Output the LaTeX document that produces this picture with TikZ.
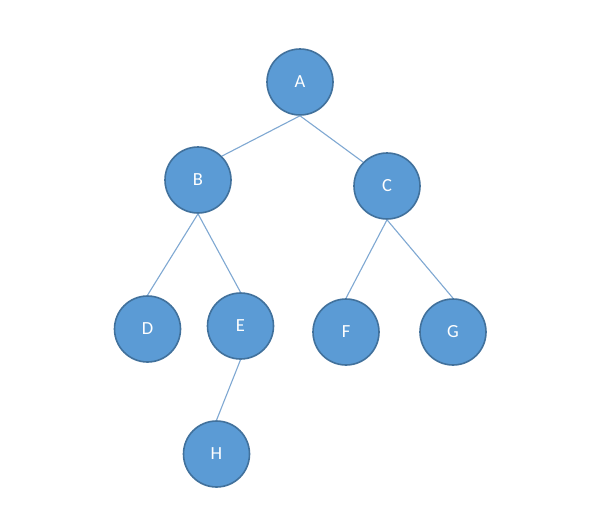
\documentclass[tikz,border=0pt]{standalone}
\usepackage{fontspec}
\setmainfont{Carlito}
\definecolor{nodefill}{HTML}{5B9BD5}
\definecolor{nodeborder}{HTML}{41719C}
\definecolor{edgecol}{HTML}{7FA8D2}
\begin{document}
\begin{tikzpicture}[x=1pt,y=-1pt,
  treenode/.style={circle,fill=nodefill,draw=nodeborder,line width=1.6pt,minimum size=66pt,inner sep=0pt,text=white,font=\fontsize{18.5}{22}\selectfont},
  edge/.style={draw=edgecol,line width=1.1pt}]
\useasboundingbox[fill=white] (0,0) rectangle (591,514);
\node[treenode] (A) at (300,82) {A};
\node[treenode] (B) at (198,180) {B};
\node[treenode] (C) at (387,186) {C};
\node[treenode] (D) at (147.5,329) {D};
\node[treenode] (E) at (240.5,326) {E};
\node[treenode] (F) at (346,332) {F};
\node[treenode] (G) at (453,332) {G};
\node[treenode] (H) at (216.5,454) {H};
\draw[edge] (A.south) -- (B.45);
\draw[edge] (A.south) -- (C.135);
\draw[edge] (B.south) -- (D.north);
\draw[edge] (B.south) -- (E.north);
\draw[edge] (C.south) -- (F.north);
\draw[edge] (C.south) -- (G.north);
\draw[edge] (E.south) -- (H.north);
\end{tikzpicture}
\end{document}
